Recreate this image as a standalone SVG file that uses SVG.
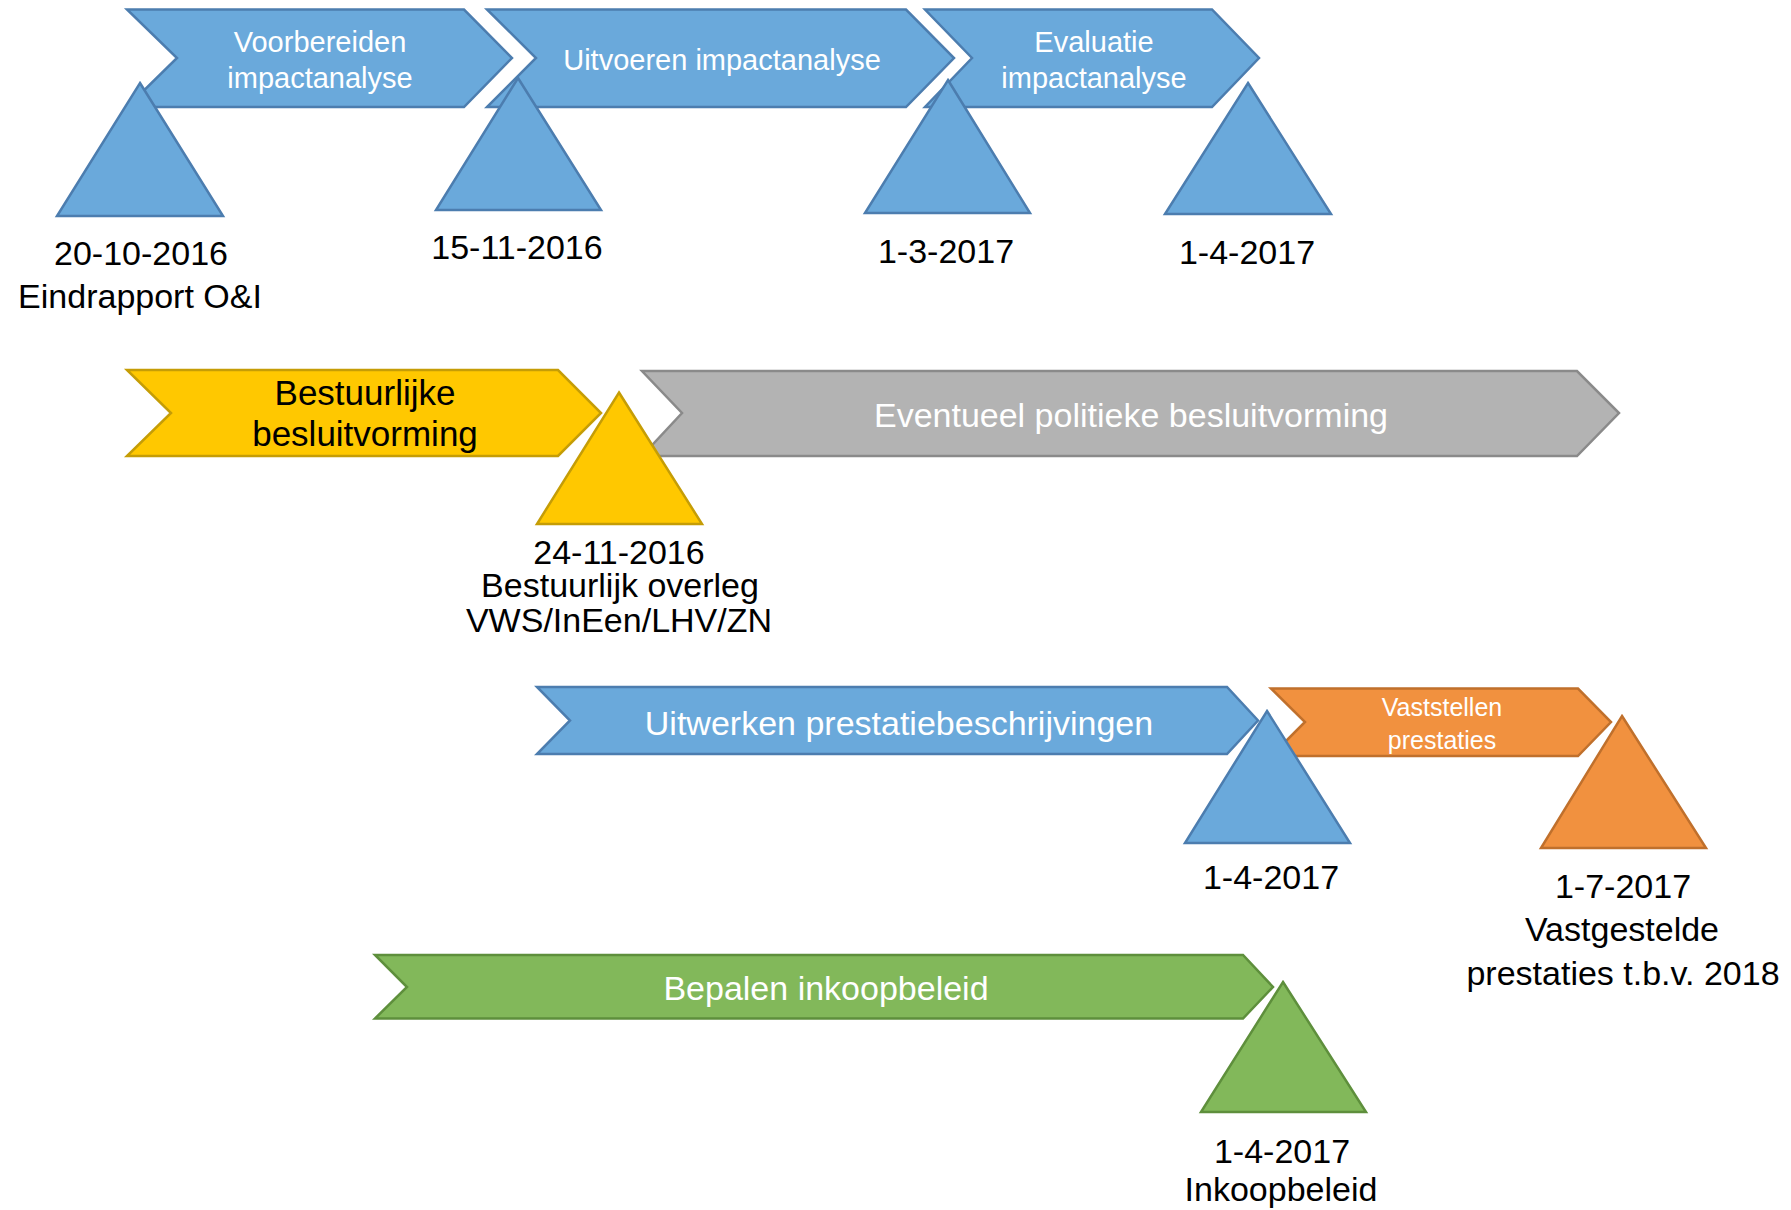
<svg xmlns="http://www.w3.org/2000/svg" width="1791" height="1210" viewBox="0 0 1791 1210">
  <style>
    .blue { fill: #6AA9DB; stroke: #4C7DAF; stroke-width: 2.5; stroke-linejoin: miter; }
    .yellow { fill: #FFC800; stroke: #C59D06; stroke-width: 2.5; }
    .gray { fill: #B3B3B3; stroke: #8A8A8A; stroke-width: 2.5; }
    .orange { fill: #F1913F; stroke: #C0702C; stroke-width: 2.5; }
    .green { fill: #82B85A; stroke: #5E8F3C; stroke-width: 2.5; }
    text { font-family: "Liberation Sans", Arial, sans-serif; text-anchor: middle; }
    .lbl { font-size: 34px; fill: #000; }
    .ct { font-size: 29px; fill: #FFFFFF; }
    .cb { font-size: 34px; fill: #FFFFFF; }
    .cy { font-size: 35px; fill: #000; }
    .co { font-size: 25px; fill: #FFFFFF; }
  </style>
  <rect width="1791" height="1210" fill="#FFFFFF"/>

  <g id="voorbereiden">
    <path class="blue" d="M127,9.5 L464,9.5 L512,58 L464,107 L127,107 L177,58 Z"/>
    <text class="ct" x="320" y="52">Voorbereiden</text>
    <text class="ct" x="320" y="88">impactanalyse</text>
  </g>
  <g id="uitvoeren">
    <path class="blue" d="M487,9.5 L906,9.5 L954,58 L906,107 L487,107 L536,58 Z"/>
    <text class="ct" x="722" y="70">Uitvoeren impactanalyse</text>
  </g>
  <g id="evaluatie">
    <path class="blue" d="M925,9.5 L1212,9.5 L1259,58 L1212,107 L925,107 L972,58 Z"/>
    <text class="ct" x="1094" y="52">Evaluatie</text>
    <text class="ct" x="1094" y="88">impactanalyse</text>
  </g>

  <g id="m-20-10-2016">
    <polygon class="blue" points="140,83 223,216 57,216"/>
    <text class="lbl" x="141" y="265">20-10-2016</text>
    <text class="lbl" x="140" y="308">Eindrapport O&amp;I</text>
  </g>
  <g id="m-15-11-2016">
    <polygon class="blue" points="518,78 601,210 436,210"/>
    <text class="lbl" x="517" y="259">15-11-2016</text>
  </g>
  <g id="m-1-3-2017">
    <polygon class="blue" points="948,80 1030,213 865,213"/>
    <text class="lbl" x="946" y="263">1-3-2017</text>
  </g>
  <g id="m-1-4-2017-a">
    <polygon class="blue" points="1248,83 1331,214 1165,214"/>
    <text class="lbl" x="1247" y="264">1-4-2017</text>
  </g>

  <g id="bestuurlijke">
    <path class="yellow" d="M127,370 L558,370 L601,413 L558,456 L127,456 L171,413 Z"/>
    <text class="cy" x="365" y="405">Bestuurlijke</text>
    <text class="cy" x="365" y="446">besluitvorming</text>
  </g>
  <g id="politiek">
    <path class="gray" d="M642,371 L1577,371 L1619,413 L1577,456 L642,456 L682,413 Z"/>
    <text class="cb" x="1131" y="427">Eventueel politieke besluitvorming</text>
  </g>
  <g id="m-24-11-2016">
    <polygon class="yellow" points="619,392.5 702,524 537,524"/>
    <text class="lbl" x="619" y="564">24-11-2016</text>
    <text class="lbl" x="620" y="597">Bestuurlijk overleg</text>
    <text class="lbl" x="619" y="632">VWS/InEen/LHV/ZN</text>
  </g>

  <g id="uitwerken">
    <path class="blue" d="M537,687 L1227,687 L1258,720.5 L1227,754 L537,754 L570,720.5 Z"/>
    <text class="cb" x="899" y="735">Uitwerken prestatiebeschrijvingen</text>
  </g>
  <g id="vaststellen">
    <path class="orange" d="M1271,688.5 L1578,688.5 L1611,722 L1578,756 L1271,756 L1305,722 Z"/>
    <text class="co" x="1442" y="716">Vaststellen</text>
    <text class="co" x="1442" y="749">prestaties</text>
  </g>
  <g id="m-1-4-2017-b">
    <polygon class="blue" points="1267,711 1350,843 1185,843"/>
    <text class="lbl" x="1271" y="889">1-4-2017</text>
  </g>
  <g id="m-1-7-2017">
    <polygon class="orange" points="1622,716 1706,848 1541,848"/>
    <text class="lbl" x="1623" y="898">1-7-2017</text>
    <text class="lbl" x="1622" y="941">Vastgestelde</text>
    <text class="lbl" x="1623" y="985">prestaties t.b.v. 2018</text>
  </g>

  <g id="inkoopbeleid">
    <path class="green" d="M375,955 L1243,955 L1273,987 L1243,1018.5 L375,1018.5 L407,987 Z"/>
    <text class="cb" x="826" y="1000">Bepalen inkoopbeleid</text>
  </g>
  <g id="m-1-4-2017-c">
    <polygon class="green" points="1283,982 1366,1112 1201,1112"/>
    <text class="lbl" x="1282" y="1163">1-4-2017</text>
    <text class="lbl" x="1281" y="1201">Inkoopbeleid</text>
  </g>
</svg>
